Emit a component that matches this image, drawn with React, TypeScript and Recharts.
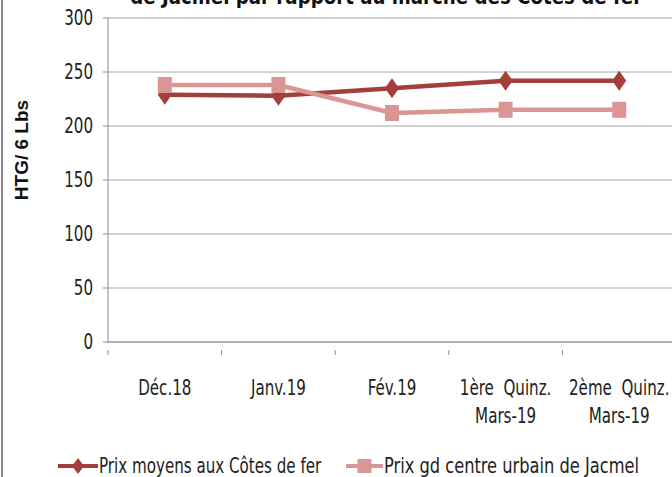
import { LineChart, Line, XAxis, YAxis, CartesianGrid } from 'recharts';

// Periods (two-line labels for the March fortnights)
const periods = ['Déc.18', 'Janv.19', 'Fév.19', '1ère  Quinz.|Mars-19', '2ème  Quinz.|Mars-19'];
const prixCotesDeFer = [229, 228, 235, 242, 242];
const prixJacmel = [238, 238, 212, 215, 215];
const yTicks = [0, 50, 100, 150, 200, 250, 300];

const seriesNames = ['Prix moyens aux Côtes de fer', 'Prix gd centre urbain de Jacmel'];
const DARK = '#A43E3B';
const PINK = '#D99694';
const FONT = '"Liberation Sans Narrow", "DejaVu Sans Condensed", "Open Sans", sans-serif';
const SQUEEZE = 0.8; // tall, narrow lettering like the original

const data = periods.map((p, i) => ({
  x: i + 0.5,
  label: p,
  cotes: prixCotesDeFer[i],
  jacmel: prixJacmel[i],
}));

// boundaries get a tick mark, midpoints get the label
const xTicks = [0, 0.5, 1, 1.5, 2, 2.5, 3, 3.5, 4, 4.5, 5];

function XTick(props: any) {
  const { x, y, payload } = props;
  const v = payload.value as number;
  if (Number.isInteger(v)) {
    return <line x1={x} x2={x} y1={y} y2={y + 5} stroke="#8c8c8c" />;
  }
  const lines = periods[Math.floor(v)].split('|');
  return (
    <g transform={`translate(${x},${y}) scale(${SQUEEZE},1)`}>
      <text x={0} y={0} textAnchor="middle" fontFamily={FONT} fontSize={21} fill="#222">
        {lines.map((l, i) => (
          <tspan key={i} x={0} dy={i === 0 ? 45 : 28} style={{ whiteSpace: 'pre' }}>
            {l}
          </tspan>
        ))}
      </text>
    </g>
  );
}

function YTick(props: any) {
  const { x, y, payload } = props;
  return (
    <g transform={`translate(${x},${y}) scale(${SQUEEZE},1)`}>
      <text x={0} y={0} dy={7} textAnchor="end" fontFamily={FONT} fontSize={21} fill="#222">
        {payload.value}
      </text>
    </g>
  );
}

function Diamond(props: any) {
  const { cx, cy } = props;
  if (cx == null || cy == null) return null;
  return <path d={`M${cx},${cy - 10} L${cx + 7},${cy} L${cx},${cy + 10} L${cx - 7},${cy} Z`} fill={DARK} />;
}

function Square(props: any) {
  const { cx, cy } = props;
  if (cx == null || cy == null) return null;
  return <rect x={cx - 7} y={cy - 8} width={14} height={16} fill={PINK} />;
}

const legendPos = [
  { marker: 58, width: 40, squeeze: 0.8 },
  { marker: 346, width: 37, squeeze: 0.86 },
];

export default function App() {
  return (
    <div
      style={{
        position: 'fixed',
        left: 0,
        top: 0,
        width: 672,
        height: 477,
        overflow: 'hidden',
        background: '#fff',
      }}
    >
      <div style={{ position: 'absolute', left: 1, top: 0, width: 2, height: 477, background: '#8c8c8c' }} />
      <div
        style={{
          position: 'absolute',
          left: 100,
          width: 572,
          top: -16,
          textAlign: 'center',
          fontFamily: FONT,
          fontWeight: 'bold',
          fontSize: 22,
          color: '#111',
          whiteSpace: 'nowrap',
        }}
      >
        <span style={{ display: 'inline-block', transform: 'scale(0.92,1)' }}>
          de Jacmel par rapport au marché des Côtes de fer
        </span>
      </div>
      <div
        style={{
          position: 'absolute',
          left: 22,
          top: 150,
          transform: 'translate(-50%, -50%) rotate(-90deg)',
          fontFamily: '"Liberation Sans", Arial, sans-serif',
          fontWeight: 'bold',
          fontSize: 19,
          color: '#111',
          whiteSpace: 'nowrap',
        }}
      >
        HTG/ 6 Lbs
      </div>
      <LineChart
        width={676}
        height={477}
        data={data}
        margin={{ top: 18, right: 0, bottom: 0, left: 0 }}
        style={{ position: 'absolute', left: 0, top: 0 }}
      >
        <CartesianGrid vertical={false} stroke="#a6a6a6" />
        <XAxis
          dataKey="x"
          type="number"
          domain={[0, 5]}
          ticks={xTicks}
          interval={0}
          height={135}
          tickLine={false}
          axisLine={{ stroke: '#8c8c8c' }}
          tick={<XTick />}
        />
        <YAxis
          domain={[0, 300]}
          ticks={yTicks}
          width={108}
          tickSize={5}
          tickMargin={10}
          tickLine={{ stroke: '#8c8c8c' }}
          axisLine={{ stroke: '#8c8c8c' }}
          tick={<YTick />}
        />
        <Line
          dataKey="cotes"
          stroke={DARK}
          strokeWidth={4.5}
          dot={<Diamond />}
          activeDot={false}
          isAnimationActive={false}
        />
        <Line
          dataKey="jacmel"
          stroke={PINK}
          strokeWidth={4.5}
          dot={<Square />}
          activeDot={false}
          isAnimationActive={false}
        />
      </LineChart>
      {/* legend */}
      {seriesNames.map((name, i) => {
        const { marker, width, squeeze } = legendPos[i];
        const color = i === 0 ? DARK : PINK;
        const mid = width / 2;
        return (
          <div
            key={name}
            style={{
              position: 'absolute',
              left: marker,
              top: 454,
              height: 24,
              display: 'flex',
              alignItems: 'center',
              whiteSpace: 'nowrap',
            }}
          >
            <svg width={width} height={20}>
              <line x1={0} x2={width} y1={10} y2={10} stroke={color} strokeWidth={4} />
              {i === 0 ? (
                <path d={`M${mid},2 L${mid + 6},10 L${mid},18 L${mid - 6},10 Z`} fill={DARK} />
              ) : (
                <rect x={mid - 7} y={3} width={14} height={14} fill={PINK} />
              )}
            </svg>
            <span
              style={{
                display: 'inline-block',
                marginLeft: 1,
                fontFamily: FONT,
                fontSize: 21,
                color: '#222',
                transform: `scale(${squeeze},1)`,
                transformOrigin: 'left center',
              }}
            >
              {name}
            </span>
          </div>
        );
      })}
    </div>
  );
}
